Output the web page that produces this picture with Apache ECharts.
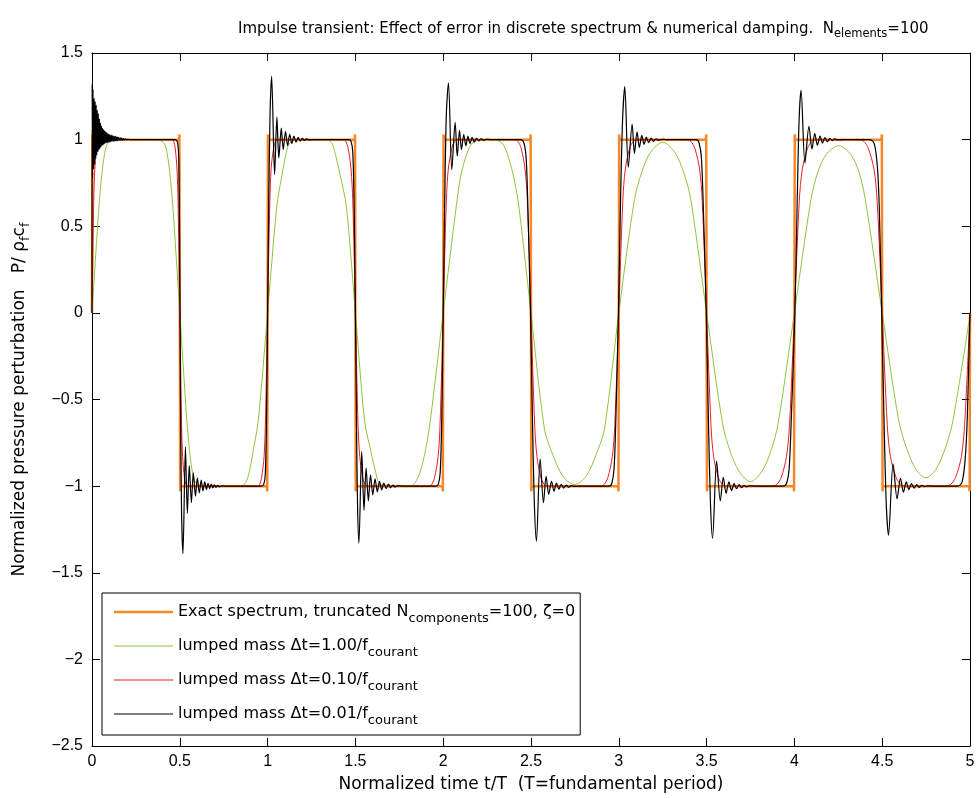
<!DOCTYPE html>
<html>
<head>
<meta charset="utf-8">
<script src="https://cdn.jsdelivr.net/npm/echarts@6/dist/echarts.min.js"></script>
<style>
  html, body { margin: 0; padding: 0; background: #fff; }
  #chart { width: 978px; height: 798px; }
</style>
</head>
<body>
<div id="chart"></div>
<script>
// Normalized time t/T and pressure P/(rho_f c_f) samples for each curve.

// Exact spectrum, truncated at 100 components (square wave with small Gibbs tips)
const exactSpectrum = [
  [0, 0], [0.002, 1.03], [0.004, 1],
  [0.496, 1], [0.498, 1.03], [0.5, 0], [0.502, -1.03], [0.504, -1],
  [0.996, -1], [0.998, -1.03], [1, 0], [1.002, 1.03], [1.004, 1],
  [1.496, 1], [1.498, 1.03], [1.5, 0], [1.502, -1.03], [1.504, -1],
  [1.996, -1], [1.998, -1.03], [2, 0], [2.002, 1.03], [2.004, 1],
  [2.496, 1], [2.498, 1.03], [2.5, 0], [2.502, -1.03], [2.504, -1],
  [2.996, -1], [2.998, -1.03], [3, 0], [3.002, 1.03], [3.004, 1],
  [3.496, 1], [3.498, 1.03], [3.5, 0], [3.502, -1.03], [3.504, -1],
  [3.996, -1], [3.998, -1.03], [4, 0], [4.002, 1.03], [4.004, 1],
  [4.496, 1], [4.498, 1.03], [4.5, 0], [4.502, -1.03], [4.504, -1],
  [4.996, -1], [4.998, -1.03], [5, 0]
];

// Lumped mass, dt = 1.00 / f_courant
const lumpedDt100 = [
  [0, 0], [0.04, 0.62], [0.055, 0.79], [0.072, 0.92], [0.09, 0.98], [0.13, 0.998], [0.25, 1.0],
  [0.37, 0.998], [0.41, 0.98], [0.428, 0.92], [0.445, 0.79], [0.46, 0.62], [0.5, 0],
  [0.54, -0.62], [0.555, -0.79], [0.572, -0.92], [0.59, -0.98], [0.63, -0.998], [0.75, -1.0],
  [0.85, -0.998], [0.875, -0.98], [0.895, -0.92], [0.919, -0.79], [0.947, -0.62], [1.0, 0],
  [1.053, 0.62], [1.081, 0.79], [1.105, 0.92], [1.125, 0.98], [1.16, 0.998], [1.25, 1.0],
  [1.335, 0.998], [1.365, 0.98], [1.385, 0.92], [1.414, 0.79], [1.448, 0.62], [1.5, 0],
  [1.552, -0.62], [1.586, -0.79], [1.615, -0.92], [1.635, -0.98], [1.67, -0.997], [1.75, -1.0],
  [1.82, -0.997], [1.84, -0.98], [1.868, -0.92], [1.9, -0.79], [1.927, -0.62], [2.0, 0],
  [2.075, 0.62], [2.1, 0.79], [2.135, 0.92], [2.165, 0.98], [2.2, 0.996], [2.25, 1.0],
  [2.3, 0.996], [2.335, 0.98], [2.365, 0.92], [2.4, 0.79], [2.43, 0.62], [2.5, 0],
  [2.577, -0.673], [2.624, -0.818], [2.681, -0.943], [2.747, -0.991],
  [2.814, -0.943], [2.871, -0.818], [2.918, -0.673], [3.0, 0],
  [3.089, 0.654], [3.13, 0.81], [3.18, 0.925], [3.25, 0.985],
  [3.32, 0.925], [3.37, 0.81], [3.41, 0.654], [3.5, 0],
  [3.591, -0.64], [3.633, -0.795], [3.685, -0.915], [3.75, -0.975],
  [3.815, -0.915], [3.867, -0.795], [3.907, -0.64], [4.0, 0],
  [4.094, 0.654], [4.132, 0.808], [4.18, 0.913], [4.252, 0.965],
  [4.322, 0.913], [4.369, 0.808], [4.404, 0.654], [4.5, 0],
  [4.593, -0.616], [4.635, -0.77], [4.692, -0.904], [4.749, -0.952],
  [4.806, -0.904], [4.863, -0.77], [4.904, -0.616], [5.0, -0.01]
];

// Lumped mass, dt = 0.10 / f_courant
const lumpedDt010 = [
  [0, 0], [0.01, 0.65], [0.016, 0.83], [0.026, 0.95], [0.035, 0.99], [0.046, 1],
  [0.454, 1], [0.465, 0.99], [0.474, 0.95], [0.484, 0.83], [0.490, 0.65], [0.5, 0],
  [0.510, -0.65], [0.516, -0.83], [0.526, -0.95], [0.535, -0.99], [0.546, -1],
  [0.942, -1], [0.955, -0.99], [0.966, -0.95], [0.980, -0.83], [0.987, -0.65], [1.0, 0],
  [1.013, 0.65], [1.020, 0.83], [1.034, 0.95], [1.045, 0.99], [1.058, 1],
  [1.429, 1], [1.445, 0.99], [1.459, 0.95], [1.475, 0.83], [1.485, 0.65], [1.5, 0],
  [1.515, -0.65], [1.525, -0.83], [1.541, -0.95], [1.555, -0.99], [1.571, -1],
  [1.916, -1], [1.935, -0.99], [1.951, -0.95], [1.971, -0.83], [1.982, -0.65], [2.0, 0],
  [2.018, 0.65], [2.029, 0.83], [2.049, 0.95], [2.065, 0.99], [2.084, 1],
  [2.403, 1], [2.425, 0.99], [2.444, 0.95], [2.466, 0.83], [2.479, 0.65], [2.5, 0],
  [2.521, -0.65], [2.534, -0.83], [2.556, -0.95], [2.575, -0.99], [2.597, -1],
  [2.892, -1], [2.917, -0.99], [2.938, -0.95], [2.963, -0.83], [2.977, -0.65], [3.0, 0],
  [3.023, 0.65], [3.037, 0.83], [3.062, 0.95], [3.083, 0.99], [3.108, 1],
  [3.383, 1], [3.41, 0.99], [3.433, 0.95], [3.46, 0.83], [3.475, 0.65], [3.5, 0],
  [3.525, -0.65], [3.54, -0.83], [3.567, -0.95], [3.59, -0.99], [3.617, -1],
  [3.87, -1], [3.9, -0.99], [3.925, -0.95], [3.955, -0.83], [3.972, -0.65], [4.0, 0],
  [4.028, 0.65], [4.045, 0.83], [4.075, 0.95], [4.1, 0.99], [4.13, 1],
  [4.364, 1], [4.395, 0.99], [4.421, 0.95], [4.453, 0.83], [4.471, 0.65], [4.5, 0],
  [4.529, -0.65], [4.547, -0.83], [4.579, -0.95], [4.605, -0.99], [4.636, -1],
  [4.857, -1], [4.89, -0.99], [4.918, -0.95], [4.951, -0.83], [4.969, -0.65], [5.0, 0]
];

// Lumped mass, dt = 0.01 / f_courant (start-up ringing, then overshoot after each edge)
const lumpedDt001 = [
  [0, 0], [0.001, 1.32], [0.003, 0.78], [0.006, 1.29], [0.009, 0.83], [0.012, 1.24],
  [0.015, 0.855], [0.018, 1.22], [0.021, 0.89], [0.024, 1.20], [0.027, 0.91], [0.030, 1.17],
  [0.033, 0.93], [0.036, 1.15], [0.039, 0.94], [0.042, 1.12], [0.045, 0.95], [0.048, 1.095],
  [0.051, 0.958], [0.054, 1.08], [0.057, 0.965], [0.060, 1.065], [0.063, 0.97], [0.066, 1.058],
  [0.069, 0.976], [0.072, 1.05], [0.075, 0.979], [0.078, 1.045], [0.081, 0.982], [0.084, 1.04],
  [0.087, 0.984], [0.090, 1.034], [0.093, 0.985], [0.096, 1.03], [0.099, 0.987], [0.102, 1.028],
  [0.106, 0.988], [0.110, 1.026], [0.114, 0.989], [0.118, 1.023], [0.122, 0.99], [0.126, 1.021],
  [0.130, 0.991], [0.134, 1.019], [0.138, 0.993], [0.142, 1.016], [0.146, 0.994], [0.150, 1.013],
  [0.155, 0.995], [0.160, 1.011], [0.165, 0.996], [0.170, 1.009], [0.175, 0.997], [0.180, 1.006],
  [0.186, 0.998], [0.192, 1.004], [0.198, 0.999], [0.205, 1.002], [0.215, 0.9995], [0.23, 1.0],
  [0.47, 1.0], [0.478, 0.998], [0.487, 0.985], [0.494, 0.9], [0.499, 0.4], [0.504, -0.5],
  [0.51, -1.15], [0.518, -1.39], [0.532, -0.773], [0.543, -1.158], [0.554, -0.881], [0.566, -1.096],
  [0.577, -0.923], [0.589, -1.058], [0.600, -0.952], [0.611, -1.039], [0.622, -0.965], [0.632, -1.028],
  [0.642, -0.976], [0.652, -1.02], [0.661, -0.984], [0.670, -1.014], [0.679, -0.989], [0.688, -1.01],
  [0.697, -0.993], [0.706, -1.007], [0.716, -0.996], [0.726, -1.004], [0.738, -0.998], [0.76, -1.0],
  [0.965, -1.0], [0.978, -0.99], [0.987, -0.93], [0.994, -0.6], [1.0, 0.0], [1.006, 0.6],
  [1.014, 1.15], [1.023, 1.365], [1.040, 0.798], [1.053, 1.131], [1.064, 0.894], [1.078, 1.067],
  [1.089, 0.942], [1.102, 1.048], [1.114, 0.965], [1.126, 1.03], [1.138, 0.978], [1.15, 1.02],
  [1.162, 0.986], [1.174, 1.013], [1.186, 0.991], [1.198, 1.008], [1.21, 0.995], [1.222, 1.004],
  [1.236, 0.998], [1.26, 1.0],
  [1.462, 1.0], [1.475, 0.99], [1.485, 0.93], [1.493, 0.6], [1.5, 0.0], [1.506, -0.6],
  [1.512, -1.1], [1.520, -1.33], [1.536, -0.80], [1.549, -1.14], [1.561, -0.895], [1.574, -1.085],
  [1.586, -0.935], [1.599, -1.05], [1.612, -0.958], [1.625, -1.033], [1.637, -0.973], [1.65, -1.022],
  [1.662, -0.982], [1.675, -1.014], [1.688, -0.989], [1.70, -1.009], [1.713, -0.994], [1.727, -1.005],
  [1.742, -0.997], [1.77, -1.0],
  [1.958, -1.0], [1.972, -0.99], [1.983, -0.92], [1.992, -0.6], [2.0, 0.0], [2.008, 0.6],
  [2.018, 1.15], [2.030, 1.327], [2.049, 0.827], [2.068, 1.10], [2.080, 0.904], [2.093, 1.054],
  [2.104, 0.942], [2.117, 1.029], [2.129, 0.965], [2.141, 1.019], [2.153, 0.977], [2.165, 1.013],
  [2.177, 0.986], [2.19, 1.008], [2.203, 0.992], [2.216, 1.005], [2.23, 0.996], [2.245, 1.002],
  [2.27, 1.0],
  [2.44, 1.0], [2.458, 0.985], [2.472, 0.9], [2.482, 0.62], [2.497, 0.0], [2.508, -0.6],
  [2.519, -1.1], [2.531, -1.318], [2.552, -0.842], [2.571, -1.096], [2.586, -0.943], [2.601, -1.048],
  [2.617, -0.972], [2.631, -1.03], [2.645, -0.982], [2.659, -1.018], [2.672, -0.99], [2.686, -1.011],
  [2.70, -0.994], [2.714, -1.006], [2.73, -0.997], [2.745, -1.002], [2.77, -1.0],
  [2.945, -1.0], [2.96, -0.985], [2.973, -0.9], [2.983, -0.62], [2.998, 0.0], [3.009, 0.6],
  [3.021, 1.1], [3.034, 1.306], [3.054, 0.84], [3.076, 1.09], [3.089, 0.92], [3.104, 1.045],
  [3.117, 0.955], [3.131, 1.024], [3.144, 0.973], [3.157, 1.015], [3.17, 0.983], [3.184, 1.009],
  [3.198, 0.99], [3.212, 1.005], [3.228, 0.996], [3.245, 1.002], [3.27, 1.0],
  [3.44, 1.0], [3.456, 0.985], [3.47, 0.9], [3.481, 0.62], [3.498, 0.0], [3.51, -0.6],
  [3.522, -1.1], [3.534, -1.30], [3.557, -0.855], [3.578, -1.085], [3.595, -0.95], [3.611, -1.042],
  [3.627, -0.975], [3.642, -1.025], [3.657, -0.985], [3.671, -1.015], [3.685, -0.991], [3.699, -1.009],
  [3.713, -0.995], [3.728, -1.004], [3.745, -0.998], [3.78, -1.0],
  [3.935, -1.0], [3.955, -0.985], [3.97, -0.9], [3.982, -0.62], [4.003, 0.0], [4.016, 0.65],
  [4.027, 1.12], [4.038, 1.285], [4.060, 0.866], [4.083, 1.077], [4.100, 0.946], [4.116, 1.035],
  [4.131, 0.968], [4.146, 1.02], [4.16, 0.98], [4.174, 1.012], [4.188, 0.988], [4.202, 1.007],
  [4.216, 0.994], [4.23, 1.004], [4.246, 0.998], [4.28, 1.0],
  [4.43, 1.0], [4.455, 0.975], [4.472, 0.85], [4.483, 0.62], [4.497, 0.0], [4.51, -0.6],
  [4.523, -1.1], [4.536, -1.283], [4.562, -0.871], [4.585, -1.073], [4.604, -0.955], [4.621, -1.035],
  [4.637, -0.975], [4.652, -1.02], [4.667, -0.985], [4.682, -1.012], [4.697, -0.991], [4.711, -1.007],
  [4.726, -0.995], [4.741, -1.003], [4.757, -0.998], [4.79, -1.0],
  [4.93, -1.0], [4.955, -0.975], [4.972, -0.85], [4.984, -0.62], [5.0, 0.0]
];

const seriesNames = [
  'Exact spectrum, truncated N_components=100, ζ=0',
  'lumped mass Δt=1.00/f_courant',
  'lumped mass Δt=0.10/f_courant',
  'lumped mass Δt=0.01/f_courant'
];
const legendRich = {
  [seriesNames[0]]: 'Exact spectrum, truncated N{s|components}=100, ζ=0',
  [seriesNames[1]]: 'lumped mass Δt=1.00/f{s|courant}',
  [seriesNames[2]]: 'lumped mass Δt=0.10/f{s|courant}',
  [seriesNames[3]]: 'lumped mass Δt=0.01/f{s|courant}'
};
const colors = ['#f7862b', '#8cc63e', '#ee1d23', '#000000'];
const lineWidths = [2.5, 1, 1, 1.2];

const FONT = 'Arial, "Liberation Sans", Helvetica, sans-serif';
const WIDE = '"DejaVu Sans", Verdana, sans-serif';
const chart = echarts.init(document.getElementById('chart'), null, { renderer: 'canvas' });

const frameAxisX = {
  type: 'value', min: 0, max: 5, interval: 0.5,
  axisLine: { onZero: false, lineStyle: { color: '#000', width: 1 } },
  axisTick: { inside: true, length: 8, lineStyle: { color: '#000' } },
  splitLine: { show: false }
};
const frameAxisY = {
  type: 'value', min: -2.5, max: 1.5, interval: 0.5,
  axisLine: { show: true, onZero: false, lineStyle: { color: '#000', width: 1 } },
  axisTick: { show: true, inside: true, length: 8, lineStyle: { color: '#000' } },
  splitLine: { show: false }
};

function lineSeries(i, data, smooth) {
  return {
    name: seriesNames[i], type: 'line', data: data,
    xAxisIndex: 0, yAxisIndex: 0,
    showSymbol: false, symbol: 'none', smooth: smooth,
    lineStyle: { color: colors[i], width: lineWidths[i] },
    itemStyle: { color: colors[i] },
    emphasis: { disabled: true }, z: 2 + i
  };
}

chart.setOption({
  animation: false,
  backgroundColor: '#fff',
  title: {
    text: 'Impulse transient: Effect of error in discrete spectrum & numerical damping.  N{s|elements}=100',
    left: 233, top: 13,
    textStyle: {
      fontFamily: WIDE, fontSize: 15, fontWeight: 'normal', color: '#000', lineHeight: 22,
      rich: { s: { fontFamily: WIDE, fontSize: 11.5, lineHeight: 12, verticalAlign: 'bottom', color: '#000' } }
    }
  },
  grid: { left: 92, right: 8, top: 53, bottom: 51, containLabel: false },
  legend: {
    orient: 'vertical', left: 102, top: 593,
    padding: [6, 5, 8, 12], itemGap: 8, itemWidth: 59, itemHeight: 14,
    backgroundColor: '#fff', borderColor: '#000', borderWidth: 1,
    data: seriesNames.map(function (n, i) {
      return { name: n, icon: 'path://M0,0H59V' + lineWidths[i] + 'H0Z' };
    }),
    formatter: function (name) { return legendRich[name]; },
    textStyle: {
      fontFamily: WIDE, fontSize: 16, color: '#000', lineHeight: 26,
      rich: { s: { fontFamily: WIDE, fontSize: 13, lineHeight: 13, verticalAlign: 'bottom', color: '#000' } }
    }
  },
  xAxis: [
    Object.assign({}, frameAxisX, {
      position: 'bottom',
      name: 'Normalized time t/T  (T=fundamental period)',
      nameLocation: 'middle', nameGap: 30,
      nameTextStyle: { fontFamily: WIDE, fontSize: 17, color: '#000' },
      axisLabel: { fontFamily: FONT, fontSize: 16, color: '#000', margin: 8 }
    }),
    Object.assign({}, frameAxisX, { position: 'top', axisLabel: { show: false } })
  ],
  yAxis: [
    Object.assign({}, frameAxisY, {
      position: 'left',
      name: 'Normalized pressure perturbation   P/ ρ{s|f}c{s|f}',
      nameLocation: 'middle', nameGap: 60, nameRotate: 90,
      nameTextStyle: {
        fontFamily: WIDE, fontSize: 17, color: '#000', lineHeight: 24,
        rich: { s: { fontFamily: WIDE, fontSize: 13, lineHeight: 13, verticalAlign: 'bottom', color: '#000' } }
      },
      axisLabel: {
        fontFamily: FONT, fontSize: 16, color: '#000', margin: 9,
        formatter: function (v) { return String(v).replace('-', '\u2212'); }
      }
    }),
    Object.assign({}, frameAxisY, { position: 'right', axisLabel: { show: false } })
  ],
  series: [
    lineSeries(0, exactSpectrum, false),
    lineSeries(1, lumpedDt100, 0.3),
    lineSeries(2, lumpedDt010, 0.3),
    lineSeries(3, lumpedDt001, 0.3)
  ]
});
</script>
</body>
</html>
